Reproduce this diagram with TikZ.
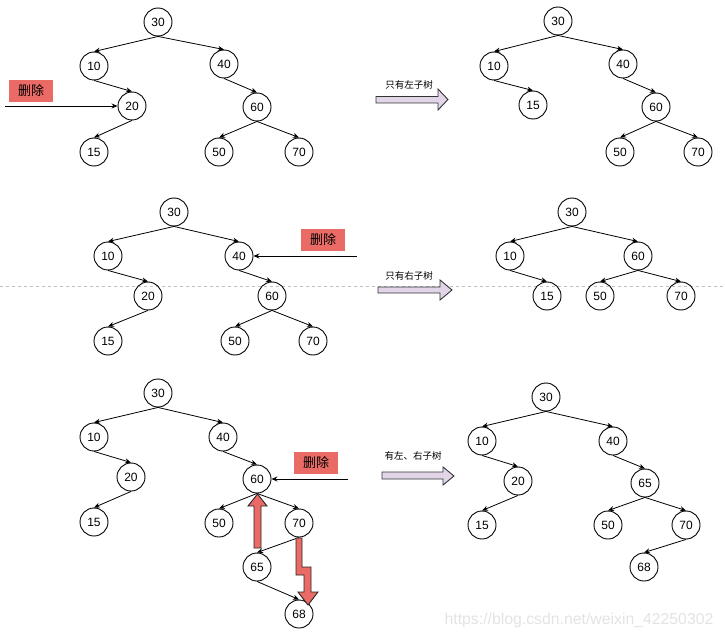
\documentclass[tikz,border=0pt]{standalone}
\usepackage{fontspec}
\setmainfont{Liberation Sans}
\newfontfamily\cjk{Noto Sans CJK SC}
\usetikzlibrary{arrows.meta}
\definecolor{delred}{HTML}{EA6B66}
\definecolor{lav}{HTML}{E1D5E7}
\begin{document}
\begin{tikzpicture}[x=1pt,y=-1pt,
 nd/.style={circle,draw,line width=0.9pt,minimum size=28pt,inner sep=0pt,font=\fontsize{12}{12}\selectfont},
 edge/.style={-{Stealth[length=6pt,width=5pt]},line width=0.8pt},
 tag/.style={fill=delred,minimum width=44pt,minimum height=22pt,inner sep=0pt,font=\cjk\fontsize{13}{13}\selectfont},
 blk/.style={fill=lav,draw=black!80,line width=0.9pt},
 redarr/.style={fill=delred,draw=black!85,line width=0.9pt},
 lbl/.style={font=\cjk\fontsize{9.5}{10}\selectfont,inner sep=0pt}]
\useasboundingbox (0,0) rectangle (725,639);
% dashed separator
\coordinate (dl) at (0,286);
\coordinate (dr) at (725,286);
\draw[gray!50,dashed,line width=0.6pt] (dl) -- (dr);

% ---------- top left ----------
\node[nd] (a30) at (158,22) {30};
\node[nd] (a10) at (94,66) {10};
\node[nd] (a40) at (224,64) {40};
\node[nd] (a20) at (132,106) {20};
\node[nd] (a60) at (257,107) {60};
\node[nd] (a15) at (94,152) {15};
\node[nd] (a50) at (219,152) {50};
\node[nd] (a70) at (299,152) {70};
\foreach \p/\c in {a30/a10,a30/a40,a10/a20,a20/a15,a40/a60,a60/a50,a60/a70}
  \draw[edge] (\p.south) -- (\c.north);
\node[tag] (at) at (31,91) {删除};
\coordinate (as) at (5,106);
\draw[edge] (as) -- (a20.west);

% ---------- top right ----------
\node[nd] (b30) at (558,21) {30};
\node[nd] (b10) at (494,66) {10};
\node[nd] (b40) at (623,64) {40};
\node[nd] (b15) at (533,105) {15};
\node[nd] (b60) at (656,107) {60};
\node[nd] (b50) at (620,152) {50};
\node[nd] (b70) at (698,152) {70};
\foreach \p/\c in {b30/b10,b30/b40,b10/b15,b40/b60,b60/b50,b60/b70}
  \draw[edge] (\p.south) -- (\c.north);

\draw[blk] (376,96.5) -- (438,96.5) -- (438,89) -- (448,99.5) -- (438,110) -- (438,103) -- (376,103) -- cycle;
\node[lbl] (l1) at (409,85) {只有左子树};

% ---------- middle left ----------
\node[nd] (c30) at (174,212) {30};
\node[nd] (c10) at (108,256) {10};
\node[nd] (c40) at (239,256) {40};
\node[nd] (c20) at (148,296) {20};
\node[nd] (c60) at (272,296) {60};
\node[nd] (c15) at (108,341) {15};
\node[nd] (c50) at (235,341) {50};
\node[nd] (c70) at (313,341) {70};
\foreach \p/\c in {c30/c10,c30/c40,c10/c20,c20/c15,c40/c60,c60/c50,c60/c70}
  \draw[edge] (\p.south) -- (\c.north);
\node[tag] (ct) at (323,240) {删除};
\coordinate (cs) at (357,256);
\draw[edge] (cs) -- (c40.east);

% ---------- middle right ----------
\node[nd] (d30) at (572,212) {30};
\node[nd] (d10) at (510,256) {10};
\node[nd] (d60) at (638,256) {60};
\node[nd] (d15) at (547,296) {15};
\node[nd] (d50) at (600,296) {50};
\node[nd] (d70) at (681,296) {70};
\foreach \p/\c in {d30/d10,d30/d60,d10/d15,d60/d50,d60/d70}
  \draw[edge] (\p.south) -- (\c.north);

\draw[blk] (378,287) -- (440,287) -- (440,280) -- (452,290) -- (440,300) -- (440,293) -- (378,293) -- cycle;
\node[lbl] (l2) at (409,276) {只有右子树};

% ---------- bottom left ----------
\node[nd] (e30) at (158,393) {30};
\node[nd] (e10) at (94,437) {10};
\node[nd] (e40) at (223,437) {40};
\node[nd] (e20) at (131,477) {20};
\node[nd] (e60) at (257,479) {60};
\node[nd] (e15) at (94,522) {15};
\node[nd] (e50) at (219,523) {50};
\node[nd] (e70) at (299,523) {70};
\node[nd] (e65) at (257,567) {65};
\node[nd] (e68) at (299,614) {68};
\foreach \p/\c in {e30/e10,e30/e40,e10/e20,e20/e15,e40/e60,e60/e50,e60/e70,e70/e65,e65/e68}
  \draw[edge] (\p.south) -- (\c.north);
\node[tag] (et) at (316,463) {删除};
\coordinate (es) at (348,479);
\draw[edge] (es) -- (e60.east);
% red arrows
\draw[redarr] (254,548) -- (254,506) -- (248,506) -- (257.5,494) -- (267,506) -- (261,506) -- (261,548) -- cycle;
\draw[redarr] (296,538) -- (302,538) -- (302,567) -- (311,567) -- (311,592) -- (318,592) -- (308,605) -- (298,592) -- (304,592) -- (304,575) -- (296,575) -- cycle;

% ---------- bottom right ----------
\node[nd] (f30) at (546,397) {30};
\node[nd] (f10) at (482,441) {10};
\node[nd] (f40) at (613,441) {40};
\node[nd] (f20) at (518,481) {20};
\node[nd] (f65) at (645,483) {65};
\node[nd] (f15) at (482,525) {15};
\node[nd] (f50) at (608,525) {50};
\node[nd] (f70) at (686,525) {70};
\node[nd] (f68) at (644,567) {68};
\foreach \p/\c in {f30/f10,f30/f40,f10/f20,f20/f15,f40/f65,f65/f50,f65/f70,f70/f68}
  \draw[edge] (\p.south) -- (\c.north);

\draw[blk] (382,472) -- (443,472) -- (443,467) -- (454,476) -- (443,485) -- (443,479) -- (382,479) -- cycle;
\node[lbl] (l3) at (413,456) {有左、右子树};

% watermark
\node[text=gray!22,font=\fontsize{15.8}{16}\selectfont,inner sep=0pt] (wm) at (579,620) {https://blog.csdn.net/weixin\_42250302};
\end{tikzpicture}
\end{document}
